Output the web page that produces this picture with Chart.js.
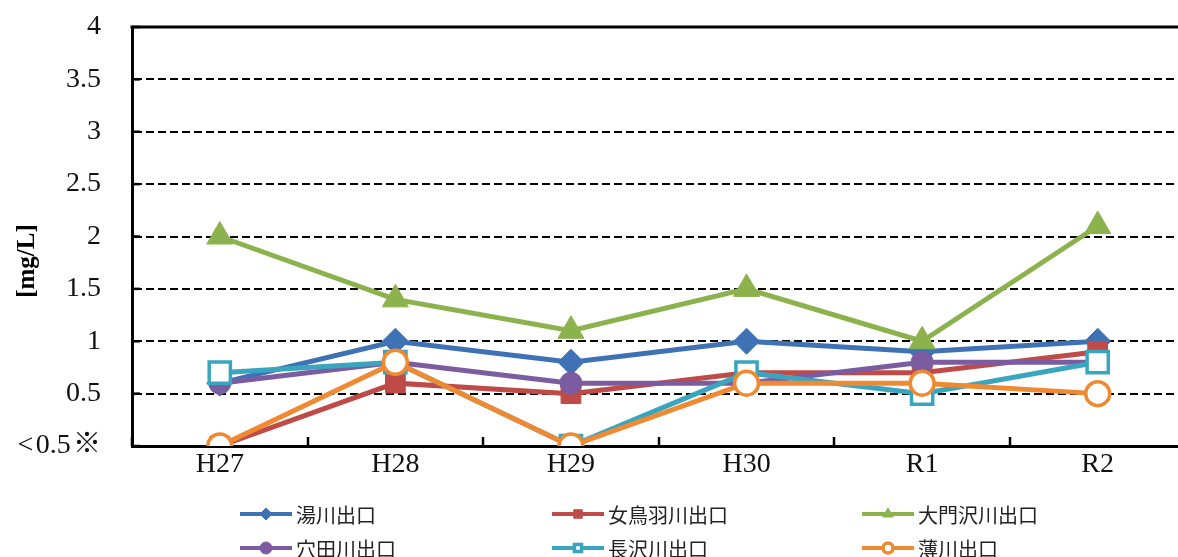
<!DOCTYPE html>
<html>
<head>
<meta charset="utf-8">
<script src="https://cdn.jsdelivr.net/npm/chart.js@4/dist/chart.umd.min.js"></script>
<style>
  html, body { margin: 0; padding: 0; background: #fff; overflow: hidden; }
</style>
</head>
<body>
<canvas id="chartLine" width="1204" height="557"></canvas>
<script>
const years = ["H27", "H28", "H29", "H30", "R1", "R2"];

// 0 stands for below the detection limit (<0.5)
const yukawa = [0.6, 1.0, 0.8, 1.0, 0.9, 1.0];
const metoba = [0, 0.6, 0.5, 0.7, 0.7, 0.9];
const daimonzawa = [2.0, 1.4, 1.1, 1.5, 1.0, 2.1];
const anada = [0.6, 0.8, 0.6, 0.6, 0.8, 0.8];
const nagasawa = [0.7, 0.8, 0, 0.7, 0.5, 0.8];
const susuki = [0, 0.8, 0, 0.6, 0.6, 0.5];

const yTicks = [0, 0.5, 1, 1.5, 2, 2.5, 3, 3.5, 4];

const serif = "'Liberation Serif', 'Times New Roman', 'Noto Sans CJK JP', serif";
const gothic = "'Noto Sans CJK JP', sans-serif";

function series(label, data, color, style, radius, hollow) {
  return {
    label: label,
    data: data,
    borderColor: color,
    backgroundColor: color,
    borderWidth: 5,
    pointStyle: style,
    pointRadius: radius,
    pointBackgroundColor: hollow ? "#fff" : color,
    pointBorderColor: color,
    pointBorderWidth: hollow ? 3.5 : 1,
    tension: 0,
    legendRadius: hollow ? 5 : 6,
  };
}

const datasets = [
  series("湯川出口", yukawa, "#3f72b5", "rectRot", 13, false),
  series("女鳥羽川出口", metoba, "#bf4b48", "rect", 14, false),
  series("大門沢川出口", daimonzawa, "#8cb24e", "triangle", 15, false),
  series("穴田川出口", anada, "#7b5ca1", "circle", 11, false),
  series("長沢川出口", nagasawa, "#3aa5bf", "rect", 15, true),
  series("薄川出口", susuki, "#ef8a33", "circle", 12, true),
];
// later series sit on top
datasets.forEach((d, i) => (d.order = datasets.length - i));

// top frame line, inward tick marks, axis title and legend
const extras = {
  id: "extras",
  afterDatasetsDraw(chart) {
    const ctx = chart.ctx;
    const area = chart.chartArea;
    const x = chart.scales.x;
    const y = chart.scales.y;
    ctx.save();
    ctx.strokeStyle = "#000";
    ctx.lineWidth = 3;
    ctx.beginPath();
    ctx.moveTo(area.left - 1.5, area.top);
    ctx.lineTo(area.right, area.top);
    ctx.stroke();

    const step = x.getPixelForValue(1) - x.getPixelForValue(0);
    ctx.lineWidth = 2.5;
    for (let i = 0; i <= years.length; i++) {
      const px = Math.round(x.getPixelForValue(i) - step / 2);
      ctx.beginPath();
      ctx.moveTo(px, area.bottom);
      ctx.lineTo(px, area.bottom - 9);
      ctx.stroke();
    }
    yTicks.forEach((v) => {
      const py = y.getPixelForValue(v);
      ctx.beginPath();
      ctx.moveTo(area.left, py);
      ctx.lineTo(area.left + 8, py);
      ctx.stroke();
    });
    ctx.restore();
  },
  afterDraw(chart) {
    const ctx = chart.ctx;
    ctx.save();
    ctx.fillStyle = "#000";
    ctx.font = "bold 25px " + serif;
    ctx.translate(28, 261);
    ctx.rotate(-Math.PI / 2);
    ctx.textAlign = "center";
    ctx.textBaseline = "middle";
    ctx.fillText("[mg/L]", 0, 0);
    ctx.restore();

    const cols = [240, 552, 862];
    const rows = [514, 548];
    chart.data.datasets.forEach((d, i) => {
      const lx = cols[i % 3];
      const ly = rows[Math.floor(i / 3)];
      ctx.save();
      ctx.strokeStyle = d.borderColor;
      ctx.lineWidth = 4;
      ctx.beginPath();
      ctx.moveTo(lx, ly);
      ctx.lineTo(lx + 52, ly);
      ctx.stroke();
      ctx.fillStyle = d.pointBackgroundColor;
      ctx.strokeStyle = d.pointBorderColor;
      ctx.lineWidth = d.pointBorderWidth;
      Chart.helpers.drawPoint(ctx, {
        pointStyle: d.pointStyle,
        radius: d.legendRadius,
        rotation: 0,
        borderWidth: d.pointBorderWidth,
      }, lx + 26, ly);
      ctx.fillStyle = "#222";
      ctx.font = "20px " + gothic;
      ctx.textAlign = "left";
      ctx.textBaseline = "middle";
      ctx.fillText(d.label, lx + 56, ly + 1);
      ctx.restore();
    });
  },
};

const configLine = {
  type: "line",
  data: { labels: years, datasets: datasets },
  options: {
    responsive: false,
    animation: false,
    layout: { padding: { top: 27, right: 0, bottom: 0, left: 0 } },
    plugins: { legend: { display: false }, tooltip: { enabled: false } },
    scales: {
      x: {
        offset: true,
        grid: { display: false, drawTicks: false },
        border: { display: true, color: "#000", width: 3 },
        ticks: {
          color: "#111",
          padding: 2,
          font: { family: serif, size: 28 },
          maxRotation: 0,
        },
        afterFit: (scale) => { scale.height = 111; },
      },
      y: {
        min: 0,
        max: 4,
        afterBuildTicks: (scale) => {
          scale.ticks = yTicks.map((v) => ({ value: v }));
        },
        grid: {
          color: "#000",
          lineWidth: 2,
          drawTicks: true,
          tickLength: 31,
          tickColor: "rgba(0,0,0,0)",
        },
        border: { display: true, color: "#000", width: 3, dash: [8, 4] },
        ticks: {
          color: "#111",
          padding: 0,
          font: { family: serif, size: 28 },
          callback: (v) => (v === 0 ? "<\u200A0.5\u200A※" : v),
        },
        afterFit: (scale) => { scale.width = 132; },
      },
    },
  },
  plugins: [extras],
};

const chartLine = new Chart(document.getElementById("chartLine"), configLine);
</script>
</body>
</html>
